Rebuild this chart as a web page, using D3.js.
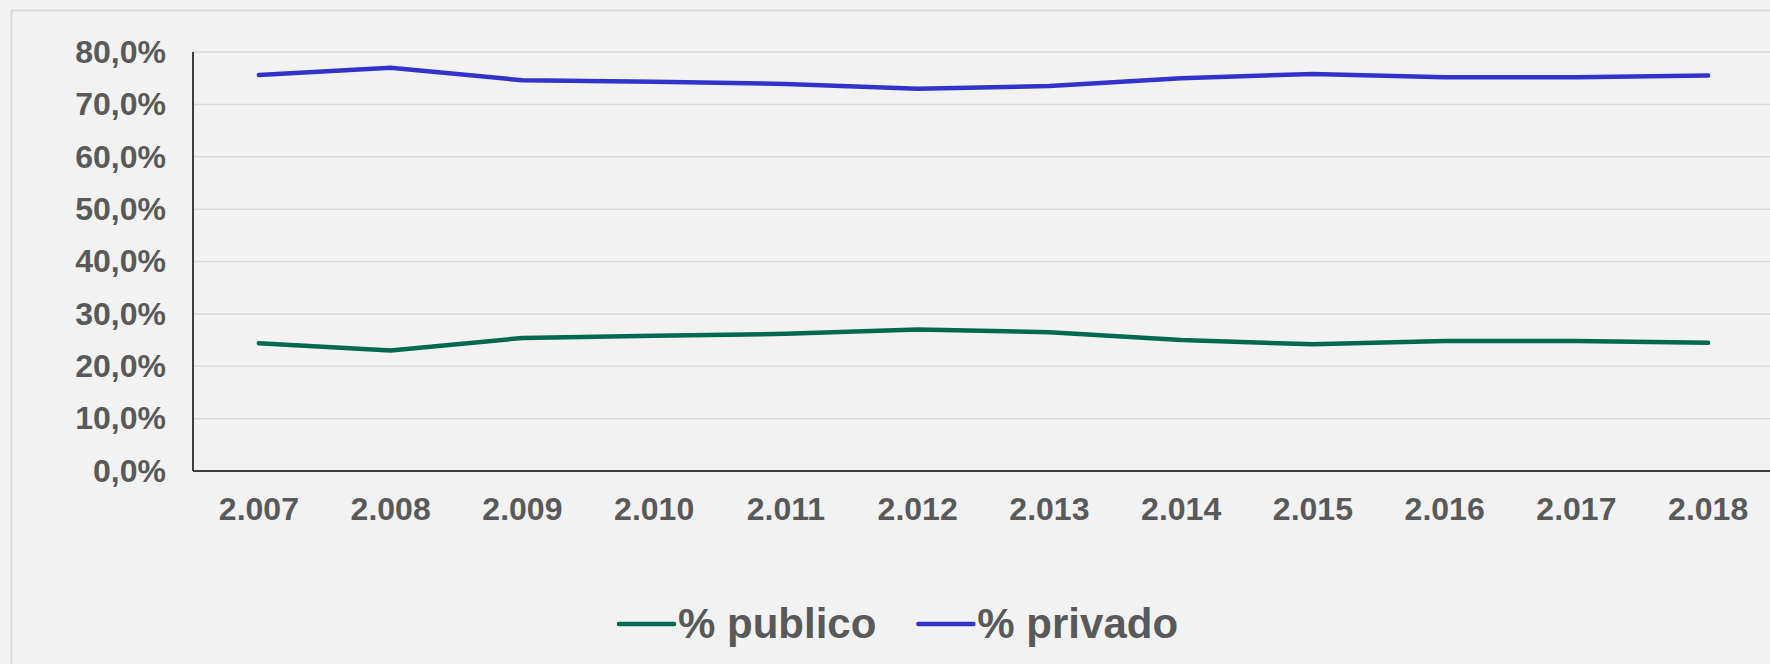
<!DOCTYPE html>
<html>
<head>
<meta charset="utf-8">
<script src="https://cdn.jsdelivr.net/npm/d3@7"></script>
<style>
  body { margin: 0; background: #f2f2f2; }
  svg { display: block; font-family: "Liberation Sans", Arial, sans-serif; font-weight: bold; }
</style>
</head>
<body>
<svg id="chart" width="1770" height="664"></svg>
<script>
// data
var years = [2007, 2008, 2009, 2010, 2011, 2012, 2013, 2014, 2015, 2016, 2017, 2018];
var publico = [24.4, 23.0, 25.4, 25.8, 26.2, 27.0, 26.5, 25.0, 24.2, 24.8, 24.8, 24.5];
var privado = [75.6, 77.0, 74.6, 74.3, 73.9, 73.0, 73.5, 75.0, 75.8, 75.2, 75.2, 75.5];
var yTicks = [0, 10, 20, 30, 40, 50, 60, 70, 80];
var seriesNames = ["% publico", "% privado"];
var seriesColors = ["#006a4e", "#3333cc"];

var es = d3.formatLocale({ decimal: ",", thousands: ".", grouping: [3], currency: ["", ""] });
var pct = function(v) { return es.format(".1f")(v) + "%"; };
var yearFmt = es.format(",");

var svg = d3.select("#chart");
var textColor = "#595959";

// outer chart border
svg.append("rect")
    .attr("x", 11.5).attr("y", 10.5)
    .attr("width", 1800).attr("height", 700)
    .attr("fill", "#f2f2f2")
    .attr("stroke", "#d9d9d9")
    .attr("stroke-width", 2);

var plotLeft = 193, plotRight = 1774, plotTop = 52, plotBottom = 471;

var x = d3.scaleBand().domain(years).range([plotLeft, plotRight]).padding(0);
var y = d3.scaleLinear().domain([0, 80]).range([plotBottom, plotTop]);

// gridlines
svg.append("g").selectAll("line")
    .data(yTicks.filter(function(d) { return d > 0; }))
    .enter().append("line")
    .attr("x1", plotLeft).attr("x2", 1770)
    .attr("y1", function(d) { return y(d); })
    .attr("y2", function(d) { return y(d); })
    .attr("stroke", "#d9d9d9")
    .attr("stroke-width", 1.5);

// y axis labels
var yAxis = svg.append("g")
    .attr("transform", "translate(" + plotLeft + ",0)")
    .call(d3.axisLeft(y).tickValues(yTicks).tickFormat(pct).tickSize(0).tickPadding(27));
yAxis.select(".domain").remove();
yAxis.selectAll("text")
    .attr("fill", textColor)
    .style("font-size", "32px")
    .style("font-family", "'Liberation Sans', Arial, sans-serif");

// x axis labels
var xAxis = svg.append("g")
    .attr("transform", "translate(0," + plotBottom + ")")
    .call(d3.axisBottom(x).tickFormat(yearFmt).tickSize(0).tickPadding(26));
xAxis.select(".domain").remove();
xAxis.selectAll("text")
    .attr("fill", textColor)
    .style("font-size", "32px")
    .style("font-family", "'Liberation Sans', Arial, sans-serif");

// axis lines
svg.append("line")
    .attr("x1", plotLeft).attr("x2", plotLeft)
    .attr("y1", y(80)).attr("y2", plotBottom)
    .attr("stroke", "#000").attr("stroke-width", 1.5);
svg.append("line")
    .attr("x1", plotLeft).attr("x2", 1770)
    .attr("y1", plotBottom).attr("y2", plotBottom)
    .attr("stroke", "#000").attr("stroke-width", 1.5);

// lines
var line = d3.line()
    .x(function(d, i) { return x(years[i]) + x.bandwidth() / 2; })
    .y(function(d) { return y(d); });

[publico, privado].forEach(function(vals, i) {
    svg.append("path")
        .datum(vals)
        .attr("d", line)
        .attr("fill", "none")
        .attr("stroke", seriesColors[i])
        .attr("stroke-width", 4.5)
        .attr("stroke-linecap", "round")
        .attr("stroke-linejoin", "round");
});

// legend
var legend = svg.append("g");
var lx = 619, ly = 624;
seriesNames.forEach(function(name, i) {
    legend.append("line")
        .attr("x1", lx).attr("x2", lx + 55)
        .attr("y1", ly).attr("y2", ly)
        .attr("stroke", seriesColors[i])
        .attr("stroke-width", 4.5)
        .attr("stroke-linecap", "round");
    var t = legend.append("text")
        .attr("x", lx + 59)
        .attr("y", 638)
        .attr("fill", textColor)
        .style("font-size", "42px")
        .text(name);
    lx = lx + 59 + t.node().getComputedTextLength() + 42;
});
</script>
</body>
</html>
